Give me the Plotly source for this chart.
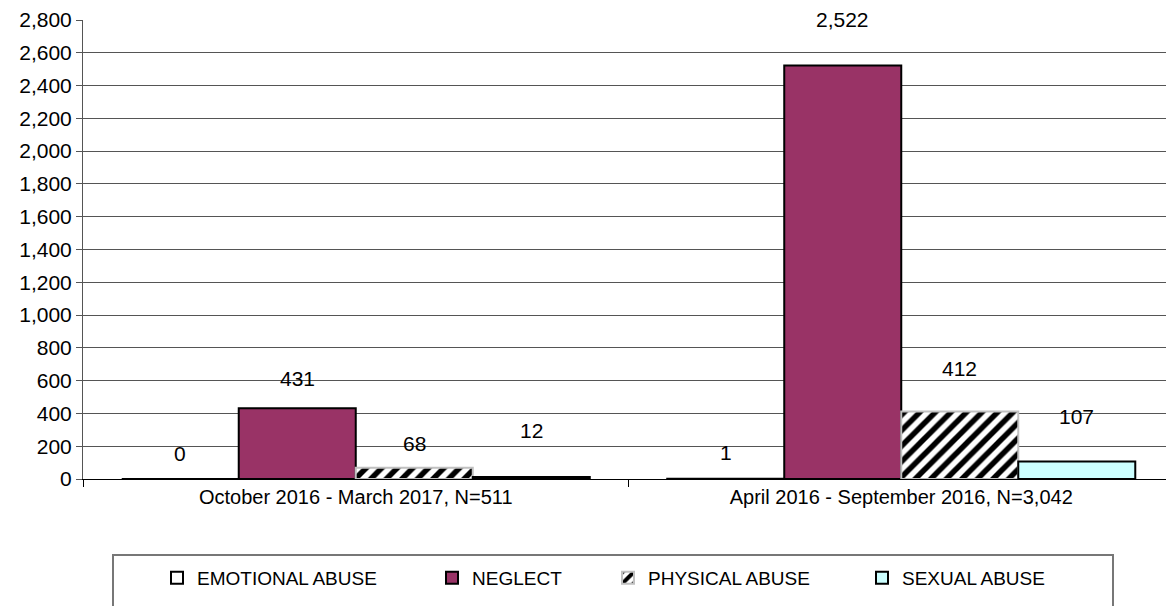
import plotly.graph_objects as go

# data
categories = [
    "October 2016 - March 2017, N=511",
    "April 2016 - September 2016, N=3,042",
]
series_names = ["EMOTIONAL ABUSE", "NEGLECT", "PHYSICAL ABUSE", "SEXUAL ABUSE"]
emotional = [0, 1]
neglect = [431, 2522]
physical = [68, 412]
sexual = [12, 107]
y_ticks = list(range(0, 2801, 200))

values = [emotional, neglect, physical, sexual]

# styling
FONT = "Liberation Sans, Arial, sans-serif"
fills = ["#FFFFFF", "#993366", "#FFFFFF", "#CCFFFF"]
edges = ["#000000", "#000000", "#C0C0C0", "#000000"]
patterns = ["", "", "/", ""]
legend_ids = ["legend", "legend2", "legend3", "legend4"]
legend_text_px = [197, 472, 648, 902]
# how far each value label sits above its bar (px)
label_lift = [[26, 26], [30, 46], [24, 43], [47, 45]]

# the page body adds an 8px margin, so the figure is made 8px smaller
PAGE_OFF = 8
W, H = 1174 - PAGE_OFF, 606 - PAGE_OFF
BARGAP = 0.142

fig = go.Figure()

for i, name in enumerate(series_names):
    fig.add_trace(
        go.Bar(
            x=categories,
            y=values[i],
            name=name,
            legend=legend_ids[i],
            marker=dict(
                color=fills[i],
                line=dict(color=edges[i], width=2),
                pattern=dict(
                    shape=patterns[i],
                    fgcolor="#000000",
                    bgcolor="#FFFFFF",
                    fgopacity=1,
                    size=11,
                    solidity=0.5,
                ),
            ),
        )
    )

# value labels above bars, placed on the category axis
group_w = 1 - BARGAP
bar_w = group_w / len(series_names)
annotations = []
for i, vals in enumerate(values):
    offset = -group_w / 2 + (i + 0.5) * bar_w
    for j, v in enumerate(vals):
        annotations.append(
            dict(
                x=j + offset,
                y=v,
                xref="x",
                yref="y",
                text=f"{v:,}",
                showarrow=False,
                yanchor="middle",
                yshift=label_lift[i][j],
                font=dict(family=FONT, size=21, color="#000000"),
            )
        )

legends = {}
for i, lid in enumerate(legend_ids):
    legends[lid] = dict(
        x=(legend_text_px[i] - PAGE_OFF - 40) / W,
        y=28 / H,
        xref="container",
        yref="container",
        xanchor="left",
        yanchor="middle",
        orientation="h",
        bgcolor="rgba(0,0,0,0)",
        borderwidth=0,
        font=dict(family=FONT, size=19, color="#000000"),
    )

fig.update_layout(
    width=W,
    height=H,
    margin=dict(l=83 - PAGE_OFF, r=0, t=20 - PAGE_OFF, b=127),
    paper_bgcolor="#FFFFFF",
    plot_bgcolor="#FFFFFF",
    showlegend=True,
    barmode="group",
    bargap=BARGAP,
    bargroupgap=0,
    annotations=annotations,
    font=dict(family=FONT, size=20, color="#000000"),
    xaxis=dict(
        showline=True,
        linecolor="#000000",
        linewidth=1,
        ticks="outside",
        tickson="boundaries",
        ticklen=7,
        tickcolor="#000000",
        showgrid=False,
        tickfont=dict(family=FONT, size=20, color="#000000"),
    ),
    yaxis=dict(
        range=[0, 2800],
        tickvals=y_ticks,
        tickformat=",",
        showline=True,
        linecolor="#555555",
        linewidth=1,
        ticks="outside",
        ticklen=6,
        tickcolor="#555555",
        showgrid=True,
        gridcolor="#555555",
        gridwidth=1,
        zeroline=False,
        tickfont=dict(family=FONT, size=21, color="#000000"),
    ),
    shapes=[
        # legend frame, running off the bottom edge as in the original
        dict(
            type="rect",
            xref="paper",
            yref="paper",
            x0=(113 - 83) / 1091,
            x1=(1113 - 83) / 1091,
            y0=-0.45,
            y1=(479 - 555) / 459,
            line=dict(color="#777777", width=2),
            fillcolor="rgba(0,0,0,0)",
            layer="below",
        )
    ],
    **legends,
)

fig.write_html("out.html")
